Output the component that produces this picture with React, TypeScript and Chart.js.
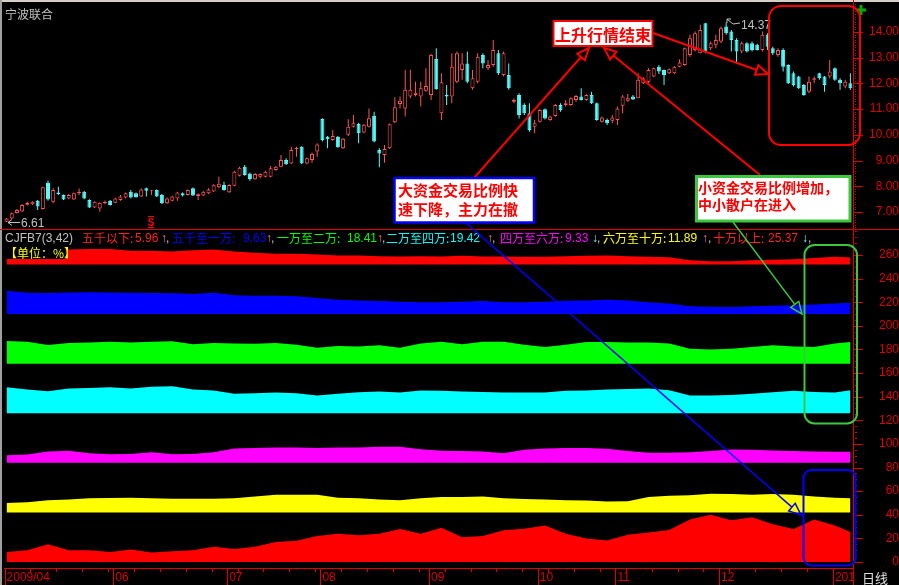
import React, { useEffect, useRef } from 'react';
import { Chart, registerables } from 'chart.js';

Chart.register(...registerables);

const W = 899;
const H = 585;
const TOP_H = 229;
const BOT_H = H - TOP_H;

// ---------- daily K-line (2009/04 .. 2010/01) ----------
const opens = [
  6.62, 6.75, 6.96, 7.02, 7.28, 7.30, 7.44, 7.12, 8.14, 7.40,
  7.76, 7.66, 7.53, 7.49, 7.73, 7.79, 7.47, 7.18, 7.14, 7.34,
  7.44, 7.36, 7.47, 7.56, 7.79, 7.73, 7.60, 7.92, 7.83, 7.86,
  7.66, 7.34, 7.44, 7.53, 7.73, 7.66, 7.92, 7.62, 7.64, 7.73,
  7.80, 7.96, 8.05, 7.77, 8.02, 8.41, 8.76, 8.50, 8.27, 8.37,
  8.37, 8.37, 8.63, 8.76, 9.02, 8.89, 9.45, 9.54, 8.89, 9.02,
  9.35, 10.62, 9.93, 9.80, 9.93, 9.48, 10.00, 10.32, 10.42, 10.09,
  10.32, 10.74, 9.41, 9.22, 9.48, 10.49, 11.20, 11.03, 11.49, 11.55,
  11.49, 11.72, 11.55, 12.95, 10.84, 11.55, 11.49, 12.07, 12.52, 12.78,
  11.81, 12.07, 13.11, 12.59, 12.72, 13.17, 12.33, 12.33, 11.29, 11.55,
  11.16, 10.84, 10.32, 10.51, 11.00, 10.58, 10.73, 11.16, 11.16, 11.16,
  11.36, 11.49, 11.36, 11.55, 11.23, 10.51, 10.58, 10.55, 10.58, 11.13,
  11.33, 11.49, 11.42, 12.01, 12.07, 12.27, 12.65, 12.52, 12.40, 12.40,
  12.65, 12.72, 13.11, 13.30, 13.17, 14.34, 13.37, 13.50, 13.63, 14.21,
  14.02, 13.69, 13.24, 13.56, 13.56, 13.50, 13.30, 13.89, 13.37, 13.11,
  13.30, 12.72, 12.40, 12.27, 11.94, 11.68, 12.14, 12.40, 12.27, 12.27,
  12.59, 12.14, 11.88, 12.01,
];
const highs = [
  6.77, 6.98, 7.12, 7.30, 7.40, 7.42, 7.47, 7.98, 8.22, 7.92,
  7.98, 7.68, 7.70, 7.76, 7.91, 7.82, 7.50, 7.42, 7.38, 7.45,
  7.47, 7.55, 7.66, 7.76, 7.86, 7.76, 7.91, 7.95, 7.86, 7.88,
  7.70, 7.56, 7.63, 7.79, 7.76, 7.88, 7.95, 7.73, 7.82, 7.92,
  8.08, 8.37, 8.18, 8.08, 8.60, 8.76, 8.83, 8.53, 8.52, 8.50,
  8.60, 8.79, 8.79, 9.22, 9.09, 9.54, 9.54, 9.56, 9.12, 9.31,
  9.67, 10.65, 9.96, 10.19, 9.96, 9.88, 10.61, 10.77, 10.47, 10.42,
  11.03, 10.90, 9.48, 9.61, 10.44, 11.46, 11.49, 12.53, 12.53, 12.07,
  12.07, 12.59, 13.15, 13.37, 12.40, 11.94, 13.17, 13.24, 13.17, 13.24,
  12.52, 13.17, 13.17, 12.91, 13.69, 13.30, 13.24, 12.78, 11.42, 11.62,
  11.23, 11.23, 10.58, 11.00, 11.03, 10.74, 11.20, 11.23, 11.36, 11.46,
  11.55, 11.81, 11.58, 11.68, 11.26, 10.71, 10.64, 10.77, 11.10, 11.55,
  11.59, 11.55, 12.40, 12.24, 12.59, 12.62, 12.72, 12.54, 12.58, 12.68,
  12.94, 13.40, 13.89, 14.02, 14.28, 14.35, 13.63, 13.89, 14.21, 14.37,
  14.08, 13.76, 13.63, 13.60, 13.63, 13.54, 14.02, 13.95, 13.43, 13.37,
  13.37, 12.75, 12.46, 12.30, 11.98, 12.27, 12.27, 12.42, 12.29, 12.91,
  12.62, 12.20, 12.14, 12.40,
];
const lows = [
  6.61, 6.73, 6.94, 7.00, 7.25, 7.27, 7.08, 7.10, 7.44, 7.34,
  7.66, 7.47, 7.50, 7.47, 7.66, 7.50, 7.16, 7.16, 7.01, 7.31,
  7.25, 7.34, 7.44, 7.53, 7.53, 7.55, 7.58, 7.60, 7.66, 7.58,
  7.31, 7.31, 7.42, 7.44, 7.60, 7.64, 7.62, 7.47, 7.62, 7.70,
  7.78, 7.92, 7.83, 7.74, 8.00, 8.38, 8.41, 8.22, 8.25, 8.31,
  8.34, 8.35, 8.60, 8.74, 8.83, 8.87, 9.15, 8.87, 8.86, 8.92,
  9.15, 9.74, 9.48, 9.77, 9.50, 9.45, 9.96, 10.29, 9.67, 10.06,
  10.29, 9.71, 8.74, 8.92, 9.45, 10.45, 11.03, 10.71, 11.42, 11.49,
  11.10, 11.68, 11.36, 11.75, 10.58, 11.16, 11.23, 12.01, 12.14, 12.01,
  11.75, 12.01, 12.59, 12.52, 12.65, 12.33, 12.27, 11.75, 11.23, 10.64,
  10.77, 10.12, 10.06, 10.48, 10.60, 10.55, 10.70, 10.90, 11.10, 11.13,
  11.29, 11.34, 11.33, 11.20, 10.55, 10.48, 10.38, 10.45, 10.38, 10.84,
  11.29, 11.36, 11.42, 11.98, 12.01, 12.24, 12.37, 11.94, 12.37, 12.37,
  12.63, 12.69, 13.04, 13.24, 13.17, 13.17, 13.30, 13.37, 13.56, 13.89,
  13.24, 12.78, 13.17, 13.20, 13.24, 13.28, 13.24, 13.30, 13.11, 13.04,
  12.46, 11.98, 11.88, 11.78, 11.52, 11.62, 12.01, 12.14, 11.68, 12.20,
  12.10, 11.75, 11.81, 11.75,
];
const closes = [
  6.75, 6.95, 7.08, 7.27, 7.36, 7.40, 7.21, 7.96, 7.49, 7.86,
  7.70, 7.49, 7.66, 7.73, 7.79, 7.53, 7.18, 7.40, 7.36, 7.40,
  7.27, 7.53, 7.60, 7.73, 7.56, 7.57, 7.88, 7.83, 7.86, 7.60,
  7.34, 7.53, 7.60, 7.76, 7.64, 7.86, 7.64, 7.69, 7.79, 7.88,
  8.04, 8.10, 7.86, 8.05, 8.57, 8.72, 8.44, 8.28, 8.48, 8.48,
  8.57, 8.70, 8.76, 9.02, 8.86, 9.41, 9.48, 8.89, 9.09, 9.26,
  9.63, 9.80, 9.83, 9.96, 9.52, 9.85, 10.32, 10.45, 10.06, 10.39,
  10.65, 9.74, 9.28, 9.45, 10.41, 11.07, 11.33, 11.75, 11.75, 11.64,
  11.81, 11.90, 13.11, 11.77, 12.05, 11.49, 12.65, 13.17, 12.78, 12.07,
  12.20, 13.04, 12.78, 12.72, 13.30, 12.40, 13.17, 11.81, 11.36, 10.77,
  10.84, 10.19, 10.45, 10.97, 10.64, 10.71, 11.16, 10.97, 11.23, 11.42,
  11.51, 11.36, 11.55, 11.23, 10.58, 10.68, 10.45, 10.68, 11.03, 11.49,
  11.42, 11.38, 12.14, 12.20, 12.52, 12.59, 12.46, 12.33, 12.55, 12.65,
  12.81, 13.37, 13.76, 13.95, 14.08, 13.24, 13.56, 13.69, 14.15, 13.95,
  13.69, 13.24, 13.56, 13.24, 13.30, 13.30, 13.89, 13.43, 13.17, 13.30,
  12.65, 12.01, 11.94, 11.81, 11.55, 12.07, 12.20, 12.20, 11.94, 12.46,
  12.14, 12.01, 12.07, 11.81,
];

// ---------- axes ----------
const priceTicks = [7, 8, 9, 10, 11, 12, 13, 14];
const pctTicks = [0, 20, 40, 60, 80, 100, 120, 140, 160, 180, 200, 220, 240, 260];
const monthIdx = [0, 21, 43, 61, 82, 103, 118, 138, 160];
const monthLabels = ['2009/04', '06', '07', '08', '09', '10', '11', '12', '201'];

// ---------- CJFB7 trade-size shares (%), sampled by day index ----------
const bandIdx = [0, 4, 8, 12, 16, 20, 24, 28, 32, 36, 40, 44, 48, 52, 56, 60, 64, 68, 72, 76, 80,
  84, 88, 92, 96, 100, 104, 108, 112, 116, 120, 124, 128, 132, 136, 140, 144, 148, 152, 156, 160, 163];
const under5k = [12.4, 12.4, 12.4, 12.7, 13, 13, 11.5, 11.5, 11, 12, 12.7, 11, 10, 9, 9, 8.5, 7.6, 7.6, 7, 6.8, 7,
  6.8, 7.3, 6.8, 6.8, 6.5, 6.5, 7, 7.3, 7.6, 7, 6.5, 6, 3.5, 2.8, 2.8, 3.5, 4, 4.5, 5.5, 6.5, 5.96];
const k5to10k = [19.8, 18, 17.8, 18.3, 18.5, 18.3, 18, 17.8, 17.5, 17, 18, 16, 15.5, 15.5, 15, 13.5, 12, 11.5, 11, 10.4, 10,
  10, 10.5, 11, 10, 10, 10.4, 11.3, 11.5, 12, 11.5, 10, 9, 6.5, 6.2, 6, 6.5, 7, 7.5, 8, 9, 9.63];
const w1to2 = [19.2, 18.5, 15.8, 17.5, 18, 18.6, 18, 18.5, 19, 16.4, 17.5, 17, 16.9, 17.5, 16, 13.5, 15, 14.5, 15.5, 13.5, 17,
  18.5, 16.5, 18.6, 18.6, 16, 14.1, 16, 18.3, 18.3, 18, 18, 17, 12.5, 12, 12.5, 14, 15.5, 14.5, 14, 17, 18.41];
const w2to4 = [22, 20, 18.6, 21, 21.4, 22, 21, 22.5, 22.9, 20, 19.2, 16.4, 17, 17.5, 16.9, 15, 16.5, 17.8, 18.5, 17.5, 19.2,
  19, 18.5, 18, 17.5, 17.5, 17.5, 19, 19.2, 20, 20.6, 21, 19.5, 15, 15, 15.5, 16.5, 17.8, 19, 18, 17.5, 19.42];
const w4to6 = [6.5, 7, 9.5, 10.2, 8, 7.3, 7.5, 9, 7.3, 7.5, 9, 12.1, 12.5, 13, 13, 12.5, 13, 13, 13.5, 13.5, 11.5,
  10.2, 10, 9.5, 8, 11, 12.1, 12.5, 12.5, 12, 10, 8.5, 8.5, 9, 10, 11.3, 11, 10.5, 10, 9.5, 9.3, 9.33];
const w6to10 = [7.9, 8.5, 10.2, 11, 12, 12.1, 12.5, 12, 11.5, 11.5, 11.5, 12, 13.5, 15, 15, 15, 12.5, 12, 11, 10.2, 12,
  13, 13, 13.5, 12, 11.3, 11, 10.2, 10, 9.3, 9.5, 13, 14.1, 14.5, 15.8, 15.5, 15, 15.5, 15, 13.5, 12.5, 11.89];
const over10w = [8.5, 10, 15, 10, 10, 8.5, 10.5, 8, 9, 10, 13, 11, 13, 16.9, 18, 22, 24, 22.6, 24, 28, 24,
  29, 21, 22, 26.8, 28.2, 31, 24, 20, 18.3, 23, 25, 27, 36, 40, 35.3, 38, 31.9, 28, 36, 31, 25.37];
const bandBases = [252, 210, 168, 126, 84, 42, 0];
const bandNames = ['五千以下', '五千至一万', '一万至二万', '二万至四万', '四万至六万', '六万至十万', '十万以上'];
const legendArrows = ['↑', '↑', '↑', '↑', '↓', '↑', '↓'];

// ---------- styles ----------
const BG = '#000000';
const UP = '#ff5454';
const DOWN = '#54fcfc';
const AXIS = '#e00000';
const AXIS_TEXT = '#e00000';
const GREY = '#c0c0c0';
const NUM_FONT = "'Liberation Sans', Arial, sans-serif";
const CJK_FONT = "'Noto Sans CJK SC', 'Liberation Sans', sans-serif";
const bandColors = ['#ff0000', '#0000ff', '#00ff00', '#00ffff', '#ff00ff', '#ffff00', '#ff0000'];
const bandValues = [under5k, k5to10k, w1to2, w2to4, w4to6, w6to10, over10w];

function seg(ctx: any, x1: number, y1: number, x2: number, y2: number) {
  ctx.beginPath();
  ctx.moveTo(x1, y1);
  ctx.lineTo(x2, y2);
  ctx.stroke();
}

const priceDeco = {
  id: 'priceDeco',
  afterDraw(chart: any) {
    const { ctx } = chart;
    const y = chart.scales.y;
    const ax = Math.round(y.left);
    ctx.save();
    ctx.strokeStyle = AXIS;
    ctx.lineWidth = 1;
    priceTicks.forEach((v) => {
      const py = Math.round(y.getPixelForValue(v)) + 0.5;
      seg(ctx, ax, py, ax + 10, py);
    });
    for (let k = 64; k <= 151; k++) {
      const py = Math.round(y.getPixelForValue(k / 10)) + 0.5;
      seg(ctx, ax + 2, py, ax + 3, py);
    }
    ctx.restore();
  },
};

const pctDeco = {
  id: 'pctDeco',
  afterDraw(chart: any) {
    const { ctx } = chart;
    const y = chart.scales.y;
    const x = chart.scales.x;
    const ax = Math.round(y.left);
    ctx.save();
    ctx.strokeStyle = AXIS;
    ctx.lineWidth = 1;
    pctTicks.forEach((v) => {
      const py = Math.round(y.getPixelForValue(v)) + 0.5;
      seg(ctx, ax, py, ax + 10, py);
    });
    for (let k = 0; k <= 56; k++) {
      const py = Math.round(y.getPixelForValue(k * 5)) + 0.5;
      seg(ctx, ax + 2, py, ax + 4, py);
    }
    monthIdx.forEach((v) => {
      const px = Math.round(x.getPixelForValue(v)) - 1.5;
      seg(ctx, px, x.top, px, x.bottom);
    });
    for (let k = 0; k <= 163; k += 5) {
      const px = Math.round(x.getPixelForValue(k)) - 1.5;
      seg(ctx, px, x.top, px, x.top + 4);
    }
    ctx.restore();
  },
};

function arrow(x1: number, y1: number, x2: number, y2: number, color: string, w: number, len = 12, half = 5) {
  const dx = x2 - x1;
  const dy = y2 - y1;
  const d = Math.hypot(dx, dy);
  const ux = dx / d;
  const uy = dy / d;
  const bx = x2 - ux * len;
  const by = y2 - uy * len;
  const nx = -uy;
  const ny = ux;
  const pts = `${x2},${y2} ${bx + nx * half},${by + ny * half} ${bx - nx * half},${by - ny * half}`;
  return (
    <g>
      <line x1={x1} y1={y1} x2={bx} y2={by} stroke={color} strokeWidth={w} />
      <polygon points={pts} fill="none" stroke={color} strokeWidth={w} strokeLinejoin="miter" />
    </g>
  );
}

export default function App() {
  const topRef = useRef<HTMLCanvasElement>(null);
  const botRef = useRef<HTMLCanvasElement>(null);

  useEffect(() => {
    document.body.style.margin = '0';
    const isUp = opens.map((o, i) => closes[i] >= o);
    const edge = isUp.map((u) => (u ? UP : DOWN));
    const fillC = isUp.map((u) => (u ? BG : DOWN));

    const top = new Chart(topRef.current as HTMLCanvasElement, {
      type: 'bar',
      data: {
        labels: opens.map((_, i) => String(i)),
        datasets: [
          {
            label: 'body',
            data: opens.map((o, i) => [o, closes[i]]),
            backgroundColor: fillC,
            borderColor: edge,
            borderWidth: 1,
            borderSkipped: false,
            barThickness: 4,
            minBarLength: 1,
            grouped: false,
            order: 1,
            inflateAmount: 0,
          } as any,
          {
            label: 'wick',
            data: lows.map((l, i) => [l, highs[i]]),
            backgroundColor: edge,
            borderWidth: 0,
            barThickness: 1,
            grouped: false,
            order: 2,
            inflateAmount: 0,
          } as any,
        ],
      },
      options: {
        animation: false,
        responsive: false,
        devicePixelRatio: 1,
        layout: { padding: { left: 4, top: 3, right: 0, bottom: 1 } },
        plugins: { legend: { display: false }, tooltip: { enabled: false } },
        scales: {
          x: { display: false, offset: true, grid: { display: false } },
          y: {
            position: 'right',
            min: 6.378,
            max: 15.128,
            afterBuildTicks: (s: any) => {
              s.ticks = priceTicks.map((v) => ({ value: v }));
            },
            afterFit: (s: any) => {
              s.width = 46;
              s.paddingTop = 0;
              s.paddingBottom = 0;
            },
            grid: { drawOnChartArea: false, drawTicks: false },
            border: { display: true, color: AXIS },
            ticks: {
              crossAlign: 'far',
              padding: 12,
              color: AXIS_TEXT,
              font: { family: NUM_FONT, size: 12 },
              callback: (v: any) => Number(v).toFixed(2),
            },
          },
        },
      } as any,
      plugins: [priceDeco],
    });

    const bot = new Chart(botRef.current as HTMLCanvasElement, {
      type: 'line',
      data: {
        datasets: bandValues.map((vals, b) => ({
          label: bandNames[b],
          data: bandIdx.map((x, k) => ({ x, y: bandBases[b] + vals[k] })),
          fill: { value: bandBases[b] },
          backgroundColor: bandColors[b],
          borderColor: 'rgba(0,0,0,0)',
          borderWidth: 0,
          pointRadius: 0,
          tension: 0,
        })) as any,
      },
      options: {
        animation: false,
        responsive: false,
        devicePixelRatio: 1,
        layout: { padding: { left: 4, top: 1, right: 0, bottom: 0 } },
        plugins: { legend: { display: false }, tooltip: { enabled: false } },
        scales: {
          x: {
            type: 'linear',
            min: -0.5,
            max: 163.5,
            afterBuildTicks: (s: any) => {
              s.ticks = monthIdx.map((v) => ({ value: v }));
            },
            afterFit: (s: any) => {
              s.height = 17;
              s.paddingLeft = 0;
              s.paddingRight = 0;
            },
            grid: { drawOnChartArea: false, drawTicks: false },
            border: { display: true, color: AXIS },
            ticks: {
              autoSkip: false,
              maxRotation: 0,
              align: 'start',
              padding: 2,
              color: AXIS_TEXT,
              font: { family: NUM_FONT, size: 12 },
              callback: (_v: any, i: number) => monthLabels[i],
            },
          },
          y: {
            position: 'right',
            min: -5.08,
            max: 281.17,
            afterBuildTicks: (s: any) => {
              s.ticks = pctTicks.map((v) => ({ value: v }));
            },
            afterFit: (s: any) => {
              s.width = 46;
              s.paddingTop = 0;
              s.paddingBottom = 0;
            },
            grid: { drawOnChartArea: false, drawTicks: false },
            border: { display: true, color: AXIS },
            ticks: {
              crossAlign: 'far',
              padding: 22,
              color: AXIS_TEXT,
              font: { family: NUM_FONT, size: 12 },
              callback: (v: any) => String(v),
            },
          },
        },
      } as any,
      plugins: [pctDeco],
    });

    return () => {
      top.destroy();
      bot.destroy();
    };
  }, []);

  const lastVals = bandValues.map((v) => v[v.length - 1].toFixed(2));
  const legendX = [
    [82, 135, 161, 166],
    [172, 243, 266, 271],
    [277, 347, 377, 382],
    [386, 450, 487, 492],
    [500, 565, 592, 597],
    [603, 668, 702, 708],
    [713, 768, 802, 808],
  ];
  const legendTextColors = ['#ff2020', '#0000ff', '#00ff00', '#00ffff', '#ff00ff', '#ffff00', '#ff2020'];

  return (
    <div style={{ position: 'absolute', left: 0, top: 0, width: W, height: H, background: BG, overflow: 'hidden' }}>
      <canvas ref={topRef} width={W} height={TOP_H} style={{ position: 'absolute', left: 0, top: 0, width: W, height: TOP_H }} />
      <canvas ref={botRef} width={W} height={BOT_H} style={{ position: 'absolute', left: 0, top: TOP_H, width: W, height: BOT_H }} />
      <svg width={W} height={H} style={{ position: 'absolute', left: 0, top: 0 }} fontFamily={CJK_FONT}>
        {/* frame */}
        <rect x={0} y={0} width={W} height={2} fill="#d4d0c8" />
        <rect x={0} y={0} width={2} height={H} fill="#a0a0a0" />
        <line x1={0} y1={229.5} x2={W} y2={229.5} stroke={AXIS} strokeWidth={1} />
        <line x1={853.5} y1={0} x2={853.5} y2={H} stroke={AXIS} strokeWidth={1} />

        {/* title & legend */}
        <text x={5} y={13} fontSize={12} fill={GREY} dominantBaseline="central">宁波联合</text>
        <text x={5} y={237.5} fontSize={12} fill={GREY} dominantBaseline="central" fontFamily={NUM_FONT}>CJFB7(3,42)</text>
        {bandNames.map((n, b) => (
          <g key={n}>
            <text x={legendX[b][0]} y={237.5} fontSize={12} fill={legendTextColors[b]} dominantBaseline="central">{n + ':'}</text>
            <text x={legendX[b][1]} y={237.5} fontSize={12} fill={legendTextColors[b]} dominantBaseline="central" fontFamily={NUM_FONT}>{lastVals[b]}</text>
            <text x={legendX[b][2]} y={237.5} fontSize={12} fill={legendArrows[b] === '↑' ? '#ff8080' : '#80ffff'} dominantBaseline="central" fontFamily={NUM_FONT}>{legendArrows[b]}</text>
            <text x={legendX[b][3]} y={237.5} fontSize={12} fill={GREY} dominantBaseline="central" fontFamily={NUM_FONT}>,</text>
          </g>
        ))}
        <rect x={3} y={245} width={63} height={14} fill={BG} />
        <text x={5} y={252} fontSize={12} fill="#ffff00" dominantBaseline="central">【单位：%】</text>

        {/* price markers */}
        <line x1={8} y1={222.5} x2={20} y2={222.5} stroke={GREY} strokeWidth={1} />
        <polyline points="12,219.5 8,222.5 12,225.5" fill="none" stroke={GREY} strokeWidth={1} />
        <text x={21} y={222.5} fontSize={12} fill={GREY} dominantBaseline="central" fontFamily={NUM_FONT}>6.61</text>
        <polyline points="727,19 733,24 740,23" fill="none" stroke={GREY} strokeWidth={1} />
        <polyline points="727,23 727,19 731,19" fill="none" stroke={GREY} strokeWidth={1} />
        <text x={741} y={24.5} fontSize={12} fill={GREY} dominantBaseline="central" fontFamily={NUM_FONT}>14.37</text>
        <text x={151} y={222} fontSize={10} fontWeight="bold" fill="#ff0000" textAnchor="middle" dominantBaseline="central" fontFamily={NUM_FONT}>S</text>
        <line x1={148} y1={216.5} x2={154} y2={216.5} stroke="#ff0000" />
        <line x1={148} y1={227.5} x2={154} y2={227.5} stroke="#ff0000" />
        <line x1={856} y1={10} x2={866} y2={10} stroke="#00b000" strokeWidth={3} />
        <line x1={861} y1={5} x2={861} y2={15} stroke="#00b000" strokeWidth={3} />

        {/* bottom-right label */}
        <text x={862} y={577.5} fontSize={13} fill="#e0e0e0" dominantBaseline="central">日线</text>

        {/* highlight frames */}
        <rect x={769} y={6} width={91} height={139} rx={12} fill="none" stroke="#ff0000" strokeWidth={2} />
        <rect x={804.5} y={245} width={52.5} height={178.5} rx={10} fill="none" stroke="#3cc83c" strokeWidth={2} />
        <rect x={803.5} y={470} width={52} height={95.5} rx={8} fill="none" stroke="#0000ff" strokeWidth={2} />

        {/* arrows */}
        {arrow(474, 178, 589, 48, '#ff0000', 2)}
        {arrow(760, 175, 604, 48, '#ff0000', 2)}
        {arrow(653, 33, 768, 74, '#ff0000', 2)}
        {arrow(466, 223, 801, 515, '#0000ff', 1.5)}
        {arrow(733, 222, 802, 314, '#3cc83c', 1.5)}

        {/* text boxes */}
        <rect x={553.5} y={21} width={99} height={25} fill="#ffffff" stroke="#ff0000" strokeWidth={2} />
        <text x={603} y={33.5} fontSize={16} fontWeight="bold" fill="#ff0000" textAnchor="middle" dominantBaseline="central">上升行情结束</text>

        <rect x={394.5} y={178} width={139.5} height={44.5} fill="#ffffff" stroke="#0000ff" strokeWidth={2.5} />
        <text x={398} y={189.5} fontSize={15} fontWeight="bold" fill="#ff0000" dominantBaseline="central">大资金交易比例快</text>
        <text x={398} y={208} fontSize={15} fontWeight="bold" fill="#ff0000" dominantBaseline="central">速下降，主力在撤</text>

        <rect x={696.5} y={176.5} width={153.5} height={44.5} fill="#ffffff" stroke="#3cc83c" strokeWidth={3} />
        <text x={698} y={186.5} fontSize={14} fontWeight="bold" fill="#ff0000" dominantBaseline="central">小资金交易比例增加，</text>
        <text x={698} y={203.5} fontSize={14} fontWeight="bold" fill="#ff0000" dominantBaseline="central">中小散户在进入</text>
      </svg>
    </div>
  );
}
